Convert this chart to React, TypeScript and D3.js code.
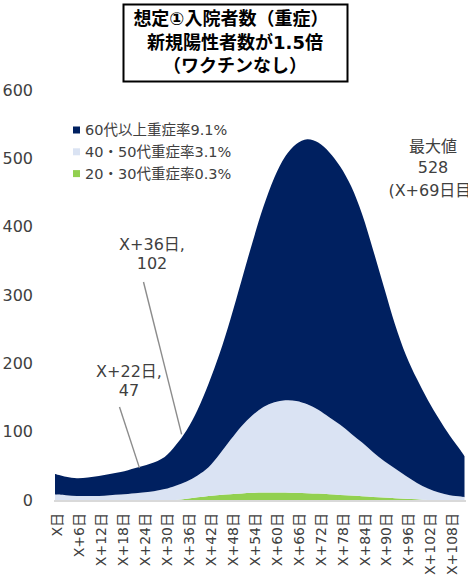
import React from "react";
import * as d3 from "d3";

// Day offsets (X日 = day 0) at which values are given
const days = [0, 3, 6, 9, 12, 15, 18, 22, 26, 30, 33, 36, 39, 42, 45, 48, 51, 54, 57, 60, 63, 66, 69, 72, 75, 78, 81, 84, 87, 90, 93, 96, 99, 102, 105, 108, 111, 112];

// Severe inpatients by age group (stacked bottom to top)
const age2030 = [0, 0, 0, 0, 0, 0, 0, 0, 0, 0, 0, 2, 4, 6, 7.5, 8.5, 9.5, 10.5, 11, 11, 11, 10.5, 10, 9.5, 8.5, 7.5, 6.5, 5.5, 4.5, 3.5, 2.5, 2, 1, 0, 0, 0, 0, 0];
const age4050 = [8, 7, 6, 6, 6, 7, 8, 10, 12, 16, 21, 25, 32, 42, 59.5, 79.5, 98.5, 113.5, 125, 132, 135, 134.5, 130, 122.5, 112.5, 102.5, 90.5, 78.5, 65.5, 53.5, 43.5, 33, 24, 17, 11, 7, 5, 4];
const age60plus = [30, 27, 26, 27, 29, 31, 33, 37, 41, 47, 59, 75, 96, 122, 147, 177, 213, 253, 293, 329, 357, 376, 388, 391, 388, 378, 362, 334, 296, 254, 211, 177, 152, 129, 108, 87, 67, 60];

const seriesNames = ["60代以上重症率9.1%", "40・50代重症率3.1%", "20・30代重症率0.3%"];
const seriesColors = ["#002060", "#DAE3F3", "#92D050"];

const tickDays = [0, 6, 12, 18, 24, 30, 36, 42, 48, 54, 60, 66, 72, 78, 84, 90, 96, 102, 108];
const yTicks = [0, 100, 200, 300, 400, 500, 600];
const calloutDays = [22, 36];

const titleLines = ["想定①入院者数（重症）", "新規陽性者数が1.5倍", "（ワクチンなし）"];

const FONT = "'DejaVu Sans', 'Noto Sans CJK JP', sans-serif";
const TEXT = "#404040";

export default function App() {
  const W = 468;
  const H = 580;

  const x = d3.scaleLinear().domain([0, 112]).range([55, 464.5]);
  const y = d3.scaleLinear().domain([0, 600]).range([500, 90]);

  const rows = days.map((d, i) => ({
    day: d,
    g: age2030[i],
    b: age4050[i],
    n: age60plus[i],
  }));
  const keys = ["g", "b", "n"];
  const stacked = d3.stack<any>().keys(keys)(rows);
  const fillFor: Record<string, string> = { g: seriesColors[2], b: seriesColors[1], n: seriesColors[0] };

  const area = d3
    .area<any>()
    .x((p) => x(p.data.day))
    .y0((p) => y(p[0]))
    .y1((p) => y(p[1]))
    .curve(d3.curveCatmullRom.alpha(0.5));

  const totals = days.map((_, i) => age2030[i] + age4050[i] + age60plus[i]);
  const maxIdx = d3.maxIndex(totals);
  const maxVal = totals[maxIdx];
  const maxDay = days[maxIdx];

  const callouts = calloutDays.map((d) => {
    const i = days.indexOf(d);
    return { day: d, value: totals[i] };
  });
  // label anchor positions for the two callouts
  const calloutPos = [
    { tx: 129, ty: 377, lx: 119.5, ly: 407, ex: 4, ey: 0 },
    { tx: 152, ty: 250, lx: 143.5, ly: 282, ex: -5, ey: 4 },
  ];

  return (
    <svg
      width={W}
      height={H}
      style={{ position: "absolute", left: 0, top: 0, background: "#fff" }}
      fontFamily={FONT}
    >
      {/* stacked areas */}
      {stacked.map((s) => (
        <path key={s.key} d={area(s as any) || ""} fill={fillFor[s.key]} />
      ))}

      {/* category axis line */}
      <line x1={54} x2={466} y1={y(0) + 1} y2={y(0) + 1} stroke="#D9D9D9" strokeWidth={2} />

      {/* value axis labels */}
      {yTicks.map((t) => (
        <text key={t} x={33} y={y(t)} dy="0.36em" textAnchor="end" fontSize={16} fill={TEXT}>
          {t}
        </text>
      ))}

      {/* category labels */}
      {tickDays.map((d) => (
        <text
          key={d}
          transform={`translate(${x(d) + 2.5},513) rotate(-90)`}
          dy="0.35em"
          textAnchor="end"
          fontSize={14}
          fill={TEXT}
        >
          {d === 0 ? "X日" : `X+${d}日`}
        </text>
      ))}

      {/* callouts with leader lines */}
      {callouts.map((c, k) => {
        const p = calloutPos[k];
        return (
          <g key={c.day}>
            <line
              x1={p.lx}
              y1={p.ly}
              x2={x(c.day) + p.ex}
              y2={y(c.value) + p.ey}
              stroke="#8C8C8C"
              strokeWidth={1.4}
            />
            <text x={p.tx} y={p.ty} textAnchor="middle" fontSize={16} fill={TEXT}>
              {`X+${c.day}日,`}
            </text>
            <text x={p.tx} y={p.ty + 19} textAnchor="middle" fontSize={16} fill={TEXT}>
              {c.value}
            </text>
          </g>
        );
      })}

      {/* maximum annotation */}
      <g fontSize={16} fill={TEXT} textAnchor="middle">
        <text x={433} y={152}>最大値</text>
        <text x={433} y={173}>{maxVal}</text>
        <text x={433} y={196}>{`(X+${maxDay}日目)`}</text>
      </g>

      {/* legend */}
      {seriesNames.map((name, i) => (
        <g key={name} transform={`translate(73,${130 + i * 21.8})`}>
          <rect x={0} y={-3.5} width={7} height={7} fill={seriesColors[i]} />
          <text x={12} y={0} dy="0.36em" fontSize={14.5} fill={TEXT}>
            {name}
          </text>
        </g>
      ))}

      {/* title box */}
      <rect x={123.5} y={4.5} width={224} height={77} fill="#fff" stroke="#000" strokeWidth={2} />
      {titleLines.map((t, i) => (
        <text
          key={t}
          x={i === 0 ? 231 : 235}
          y={19 + i * 23.5}
          dy="0.36em"
          textAnchor="middle"
          fontSize={18}
          fontWeight="bold"
          fill="#000"
        >
          {t}
        </text>
      ))}
    </svg>
  );
}
